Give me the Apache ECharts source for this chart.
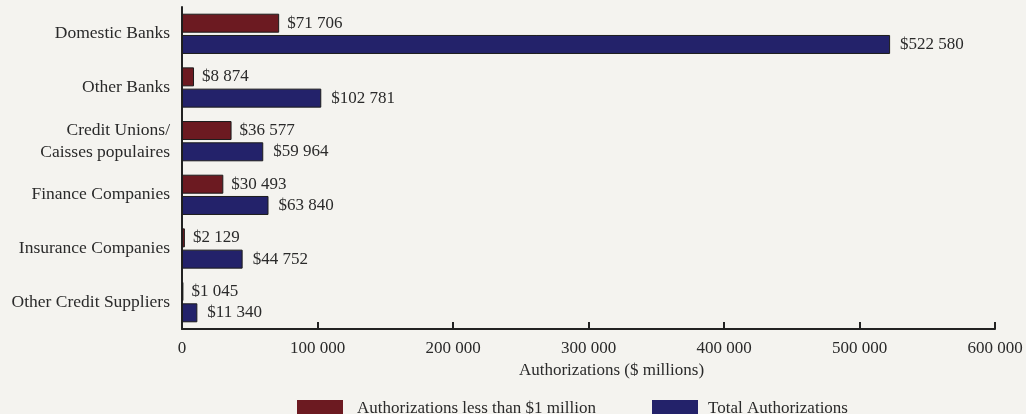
<!DOCTYPE html>
<html>
<head>
<meta charset="utf-8">
<script src="https://cdn.jsdelivr.net/npm/echarts@6/dist/echarts.min.js"></script>
<style>
  html, body { margin: 0; padding: 0; background: #f4f3ef; }
  #chart { width: 1026px; height: 414px; }
</style>
</head>
<body>
<div id="chart"></div>
<script>
// Lender categories, top to bottom
const categories = [
  'Domestic Banks',
  'Other Banks',
  'Credit Unions/\nCaisses populaires',
  'Finance Companies',
  'Insurance Companies',
  'Other Credit Suppliers'
];
// Authorizations under $1 million ($ millions)
const smallAuthorizations = [71706, 8874, 36577, 30493, 2129, 1045];
// Total authorizations ($ millions)
const totalAuthorizations = [522580, 102781, 59964, 63840, 44752, 11340];
// X-axis ticks
const xTicks = [0, 100000, 200000, 300000, 400000, 500000, 600000];

const seriesNames = ['Authorizations less than $1 million', 'Total Authorizations'];
const RED = '#6c1a21';
const BLUE = '#23226a';
const FONT = 'Liberation Serif';
const TEXT = '#2a2a2a';

const spaced = v => String(v).replace(/\B(?=(\d{3})+(?!\d))/g, ' ');

const chart = echarts.init(document.getElementById('chart'));
chart.setOption({
  backgroundColor: '#f4f3ef',
  animation: false,
  textStyle: { fontFamily: FONT, color: TEXT },
  grid: { left: 182, right: 31, top: 7, bottom: 85, containLabel: false },
  legend: [
    {
      data: [seriesNames[0]],
      icon: 'rect',
      left: 292, top: 395,
      itemWidth: 46, itemHeight: 17,
      itemStyle: { borderWidth: 0 },
      textStyle: { fontFamily: FONT, fontSize: 17, color: TEXT, padding: [0, 0, 0, 9] }
    },
    {
      data: [seriesNames[1]],
      icon: 'rect',
      left: 647, top: 395,
      itemWidth: 46, itemHeight: 17,
      itemStyle: { borderWidth: 0 },
      textStyle: { fontFamily: FONT, fontSize: 17, color: TEXT, padding: [0, 0, 0, 5] }
    }
  ],
  xAxis: {
    type: 'value',
    min: xTicks[0],
    max: xTicks[xTicks.length - 1],
    interval: xTicks[1] - xTicks[0],
    name: 'Authorizations ($ millions)',
    nameLocation: 'middle',
    nameGap: 32,
    nameTextStyle: { fontFamily: FONT, fontSize: 17, color: TEXT, padding: [0, 0, 0, 46] },
    axisLine: { show: true, lineStyle: { color: '#222', width: 2 } },
    axisTick: { show: true, inside: true, length: 7, lineStyle: { color: '#222', width: 2 } },
    axisLabel: { fontFamily: FONT, fontSize: 17, color: TEXT, margin: 11, formatter: v => spaced(v) },
    splitLine: { show: false }
  },
  yAxis: {
    type: 'category',
    data: categories,
    inverse: true,
    axisLine: { show: true, lineStyle: { color: '#222', width: 2 } },
    axisTick: { show: false },
    axisLabel: { fontFamily: FONT, fontSize: 17.5, color: TEXT, margin: 12, lineHeight: 22, align: 'right' }
  },
  series: [
    {
      name: seriesNames[0],
      type: 'bar',
      data: smallAuthorizations,
      barWidth: 19,
      barGap: '12%',
      itemStyle: { color: RED, borderColor: '#1c1c1c', borderWidth: 1 },
      label: {
        show: true, position: 'right', distance: 8,
        fontFamily: FONT, fontSize: 17, color: TEXT,
        formatter: p => '$' + spaced(p.value)
      }
    },
    {
      name: seriesNames[1],
      type: 'bar',
      data: totalAuthorizations,
      barWidth: 19,
      itemStyle: { color: BLUE, borderColor: '#1c1c1c', borderWidth: 1 },
      label: {
        show: true, position: 'right', distance: 10,
        fontFamily: FONT, fontSize: 17, color: TEXT,
        formatter: p => '$' + spaced(p.value)
      }
    }
  ]
});
</script>
</body>
</html>
